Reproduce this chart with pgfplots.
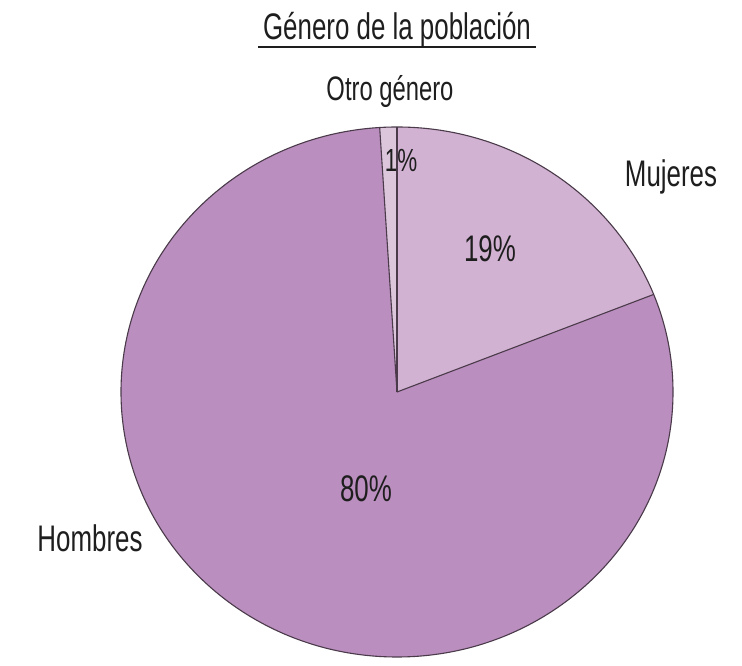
\documentclass[border=0pt]{standalone}
\usepackage{pgfplots}
\usepackage{pgfplotstable}
\pgfplotsset{compat=1.18}
\usepackage{fontspec}
\setmainfont[FakeStretch=0.7]{Liberation Sans}
\definecolor{hom}{HTML}{BA8EBE}
\definecolor{muj}{HTML}{D2B2D2}
\definecolor{otr}{HTML}{DCC6DC}
\definecolor{edge}{HTML}{4A3A4A}
\definecolor{txt}{HTML}{1E1E1E}
\pgfplotstableread{
label value
Otro 1
Hombres 80
Mujeres 19
}\slices
\pgfplotstablegetelem{0}{value}\of\slices \let\vOtro\pgfplotsretval
\pgfplotstablegetelem{1}{value}\of\slices \let\vHom\pgfplotsretval
\pgfplotstablegetelem{2}{value}\of\slices \let\vMuj\pgfplotsretval
\pgfmathsetmacro\aA{90}
\pgfmathsetmacro\aB{90+3.6*\vOtro}
\pgfmathsetmacro\aC{\aB+3.6*\vHom}
\pgfmathsetmacro\aD{\aC+3.6*\vMuj}
\begin{document}
\begin{tikzpicture}
\begin{axis}[width=742pt,height=660pt,scale only axis,
  xmin=0,xmax=742,ymin=0,ymax=660,hide axis,clip=false]
\path (axis cs:0,0) rectangle (axis cs:742,660);
\def\cx{397}\def\cy{268}
\fill[otr] (axis cs:\cx,\cy) -- ++(\aA:276pt and 265pt) arc[start angle=\aA, end angle=\aB, x radius=276pt, y radius=265pt] -- cycle;
\fill[hom] (axis cs:\cx,\cy) -- ++(\aB:276pt and 265pt) arc[start angle=\aB, end angle=\aC, x radius=276pt, y radius=265pt] -- cycle;
\fill[muj] (axis cs:\cx,\cy) -- ++(\aC:276pt and 265pt) arc[start angle=\aC, end angle=\aD, x radius=276pt, y radius=265pt] -- cycle;
\draw[edge, line width=1.1pt] (axis cs:\cx,\cy) ellipse[x radius=276pt, y radius=265pt];
\draw[edge, line width=1.1pt] (axis cs:\cx,\cy) -- ++(\aA:276pt and 265pt);
\draw[edge, line width=1.1pt] (axis cs:\cx,\cy) -- ++(\aB:276pt and 265pt);
\draw[edge, line width=1.1pt] (axis cs:\cx,\cy) -- ++(\aC:276pt and 265pt);
\begin{scope}[every node/.style={text=txt, inner sep=0pt, anchor=base}]
\node[font=\fontsize{37}{40}\selectfont] at (axis cs:397,620) {Género de la población};
\node[font=\fontsize{34}{38}\selectfont] at (axis cs:390,559) {Otro género};
\node[font=\fontsize{32}{36}\selectfont] at (axis cs:401,488) {\vOtro\%};
\node[font=\fontsize{37}{40}\selectfont] at (axis cs:671,473) {Mujeres};
\node[font=\fontsize{37}{40}\selectfont] at (axis cs:490,398) {\vMuj\%};
\node[font=\fontsize{37}{40}\selectfont] at (axis cs:366,158) {\vHom\%};
\node[font=\fontsize{37}{40}\selectfont] at (axis cs:90,108) {Hombres};
\end{scope}
\draw[txt, line width=1.3pt] (axis cs:258,613) -- (axis cs:536,613);
\end{axis}
\end{tikzpicture}
\end{document}
